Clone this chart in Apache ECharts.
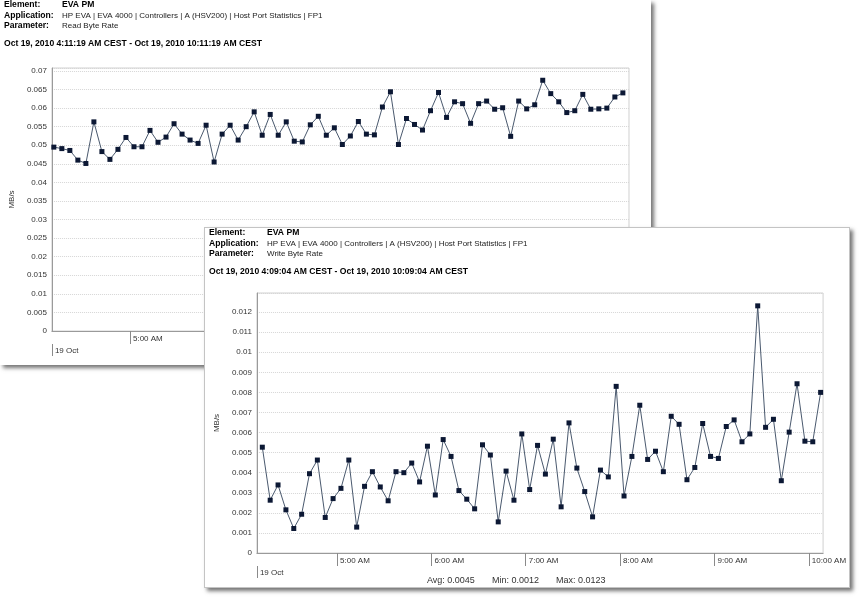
<!DOCTYPE html>
<html>
<head>
<meta charset="utf-8">
<title>EVA PM - Host Port Statistics</title>
<script src="https://cdn.jsdelivr.net/npm/echarts@6/dist/echarts.min.js"></script>
<style>
  body { margin: 0; background: #fff; width: 862px; height: 597px; overflow: hidden; position: relative; }
  .panel { position: absolute; background: #fff; box-shadow: 3px 3px 4px rgba(0, 0, 0, 0.55); }
  #read-chart { left: 0; top: 0; width: 651px; height: 365px; }
  #write-chart { left: 204px; top: 227px; width: 644px; height: 359px; border: 1px solid #c4c4c4; }
</style>
</head>
<body>
<div id="read-chart" class="panel"></div>
<div id="write-chart" class="panel"></div>
<script>
// MB/s, one sample every 5 minutes
var readByteRate = [
  0.0495, 0.0491, 0.0486, 0.0460, 0.0451, 0.0563, 0.0483, 0.0462, 0.0489, 0.0521,
  0.0496, 0.0496, 0.0540, 0.0508, 0.0522, 0.0558, 0.0530, 0.0514, 0.0505, 0.0554,
  0.0455, 0.0530, 0.0554, 0.0514, 0.0550, 0.0590, 0.0527, 0.0583, 0.0527, 0.0563,
  0.0511, 0.0509, 0.0555, 0.0578, 0.0527, 0.0547, 0.0502, 0.0525, 0.0564, 0.0530,
  0.0528, 0.0603, 0.0644, 0.0502, 0.0572, 0.0556, 0.0541, 0.0593, 0.0642, 0.0575,
  0.0617, 0.0612, 0.0559, 0.0612, 0.0619, 0.0597, 0.0601, 0.0524, 0.0619, 0.0598,
  0.0609, 0.0675, 0.0639, 0.0617, 0.0588, 0.0593, 0.0637, 0.0597, 0.0598, 0.0600,
  0.0630, 0.0641
];
var writeByteRate = [
  0.00527, 0.00263, 0.00339, 0.00215, 0.00122, 0.00193, 0.00395, 0.00463, 0.00177, 0.00271,
  0.00322, 0.00463, 0.00129, 0.00332, 0.00405, 0.00329, 0.00260, 0.00405, 0.00400, 0.00448,
  0.00354, 0.00532, 0.00289, 0.00565, 0.00481, 0.00311, 0.00268, 0.00220, 0.00539, 0.00488,
  0.00155, 0.00408, 0.00263, 0.00593, 0.00316, 0.00536, 0.00393, 0.00567, 0.00230, 0.00648,
  0.00423, 0.00306, 0.00180, 0.00413, 0.00379, 0.00830, 0.00284, 0.00481, 0.00736, 0.00466,
  0.00507, 0.00405, 0.00681, 0.00641, 0.00365, 0.00426, 0.00645, 0.00481, 0.00471, 0.00630,
  0.00663, 0.00554, 0.00593, 0.01231, 0.00626, 0.00666, 0.00360, 0.00602, 0.00843, 0.00557,
  0.00554, 0.00800
];
var hourTicks = [5, 6, 7, 8, 9, 10];
var dayLabel = '19 Oct';

var FONT = '"Liberation Sans", Arial, sans-serif';

function at(h, m, s) {
  return new Date(2010, 9, 19, h, m, s).getTime();
}

// sample timestamps: first sample 4:12:30, then every 5 min
function sampleTimes(n) {
  var out = [];
  for (var i = 0; i < n; i++) out.push(at(4, 12, 30) + i * 5 * 60000);
  return out;
}

function pairs(times, values) {
  return values.map(function (v, i) { return [times[i], v]; });
}

function headerText(x, y, text, bold) {
  return {
    type: 'text', x: x, y: y, silent: true,
    style: {
      text: text, fill: bold ? '#000' : '#222', verticalAlign: 'middle',
      font: (bold ? 'bold 8.6px ' : '8px ') + FONT
    }
  };
}

function panelOption(p) {
  var times = sampleTimes(p.values.length);
  var hourVals = hourTicks.map(function (h) { return at(h, 0, 0); });
  var graphic = [
    headerText(4, 5, 'Element:', true),
    headerText(62, 5, 'EVA PM', true),
    headerText(4, 15.5, 'Application:', true),
    headerText(62, 15.5, 'HP EVA | EVA 4000 | Controllers | A (HSV200) | Host Port Statistics | FP1', false),
    headerText(4, 26, 'Parameter:', true),
    headerText(62, 26, p.parameter, false),
    headerText(4, 44, p.range, true)
  ].concat(p.footer || []);

  return {
    animation: false,
    backgroundColor: '#fff',
    textStyle: { fontFamily: FONT },
    graphic: graphic,
    grid: {
      left: 49, right: p.right, top: p.top, bottom: 34,
      show: true, borderColor: '#d0d0d0', borderWidth: 1, backgroundColor: '#fff'
    },
    xAxis: [{
      type: 'value', min: p.start, max: p.end,
      axisLine: { lineStyle: { color: '#9a9a9a' } },
      axisTick: { show: true, length: 13, customValues: hourVals, lineStyle: { color: '#8a8a8a' } },
      axisLabel: {
        customValues: hourVals, align: 'left', margin: 4, padding: [0, 0, 0, 3],
        fontSize: 8, color: '#333', hideOverlap: false,
        formatter: function (v) {
          var h = new Date(v).getHours();
          return (h > 12 ? h - 12 : h) + ':00 ' + (h < 12 ? 'AM' : 'PM');
        }
      },
      splitLine: { show: false }
    }, {
      type: 'value', min: p.start, max: p.end, position: 'bottom', offset: 13,
      axisLine: { show: false },
      axisTick: { show: true, length: 12, customValues: [p.start], lineStyle: { color: '#8a8a8a' } },
      axisLabel: {
        customValues: [p.start], align: 'left', margin: 3, padding: [0, 0, 0, 3],
        fontSize: 8, color: '#333',
        formatter: function () { return dayLabel; }
      },
      splitLine: { show: false }
    }],
    yAxis: {
      type: 'value', min: 0, max: p.yMax, interval: p.yStep,
      name: 'MB/s', nameLocation: 'middle', nameGap: 30, nameRotate: 90,
      nameTextStyle: { fontSize: 8, color: '#333' },
      axisLine: { show: true, lineStyle: { color: '#9a9a9a' } },
      axisTick: { show: false },
      axisLabel: {
        fontSize: 8, color: '#333', margin: 5, showMaxLabel: false,
        formatter: function (v) {
          var k = v / p.yStep;
          if (Math.abs(k - Math.round(k)) > 1e-6) return '';
          return v === 0 ? '0' : String(+v.toFixed(4));
        }
      },
      splitLine: { lineStyle: { color: '#d6d6d6', type: 'dotted' } }
    },
    series: [{
      type: 'line',
      data: pairs(times, p.values),
      symbol: 'rect', symbolSize: 5, showAllSymbol: true,
      lineStyle: { width: 1, color: '#4a596e' },
      itemStyle: { color: '#0c1834' },
      emphasis: { disabled: true }
    }]
  };
}

var readChart = echarts.init(document.getElementById('read-chart'));
readChart.setOption(panelOption({
  parameter: 'Read Byte Rate',
  range: 'Oct 19, 2010 4:11:19 AM CEST - Oct 19, 2010 10:11:19 AM CEST',
  start: at(4, 11, 19), end: at(10, 11, 19),
  values: readByteRate, yMax: 0.0708, yStep: 0.005,
  top: 68, right: 22
}));

var writeChart = echarts.init(document.getElementById('write-chart'));
writeChart.setOption(panelOption({
  parameter: 'Write Byte Rate',
  range: 'Oct 19, 2010 4:09:04 AM CEST - Oct 19, 2010 10:09:04 AM CEST',
  start: at(4, 9, 4), end: at(10, 9, 4),
  values: writeByteRate, yMax: 0.01295, yStep: 0.001,
  top: 65, right: 21,
  footer: [
    { type: 'text', x: 222, y: 353, style: { text: 'Avg: 0.0045', font: '9px ' + FONT, fill: '#333', verticalAlign: 'middle' } },
    { type: 'text', x: 287, y: 353, style: { text: 'Min: 0.0012', font: '9px ' + FONT, fill: '#333', verticalAlign: 'middle' } },
    { type: 'text', x: 351, y: 353, style: { text: 'Max: 0.0123', font: '9px ' + FONT, fill: '#333', verticalAlign: 'middle' } }
  ]
}));
</script>
</body>
</html>
